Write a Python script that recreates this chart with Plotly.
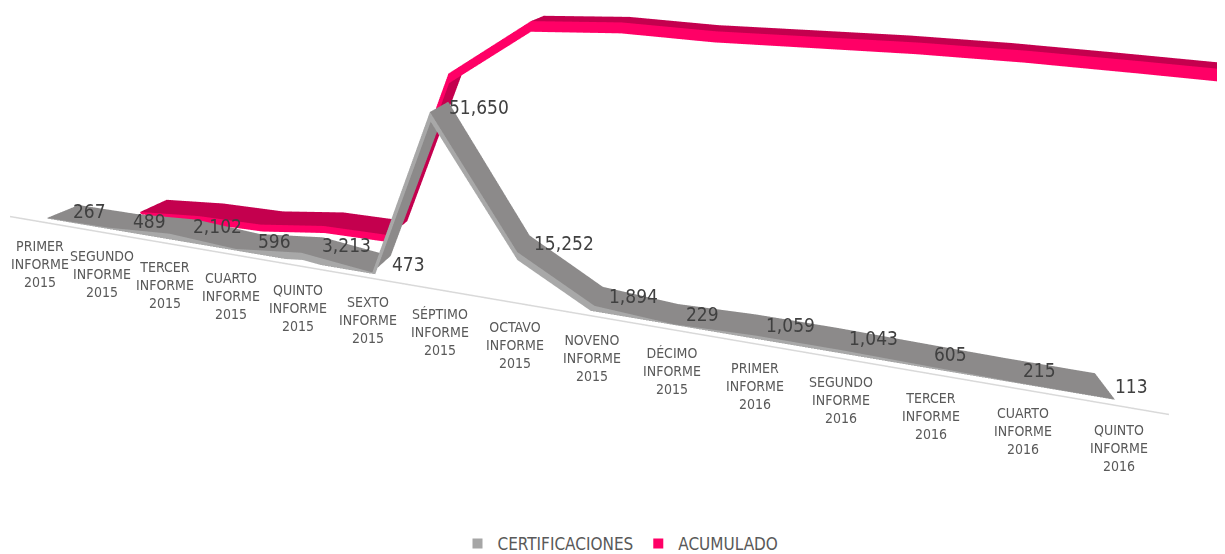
import plotly.graph_objects as go

categories = [
    "PRIMER<br>INFORME<br>2015", "SEGUNDO<br>INFORME<br>2015", "TERCER<br>INFORME<br>2015",
    "CUARTO<br>INFORME<br>2015", "QUINTO<br>INFORME<br>2015", "SEXTO<br>INFORME<br>2015",
    "SÉPTIMO<br>INFORME<br>2015", "OCTAVO<br>INFORME<br>2015", "NOVENO<br>INFORME<br>2015",
    "DÉCIMO<br>INFORME<br>2015", "PRIMER<br>INFORME<br>2016", "SEGUNDO<br>INFORME<br>2016",
    "TERCER<br>INFORME<br>2016", "CUARTO<br>INFORME<br>2016", "QUINTO<br>INFORME<br>2016",
]
certificaciones = [267, 489, 2102, 596, 3213, 473, 51650, 15252, 1894, 229, 1059, 1043, 605, 215, 113]
acumulado = [None, 756, 2858, 3454, 6667, 7140, 58790, 74042, 75936, 76165, 77224, 78267, 78872, 79087, 79200]

FONT = "DejaVu Sans Condensed, Roboto, sans-serif"
GRAY_TOP, GRAY_FRONT = "#8c8a8a", "#a8a8a8"
RED_TOP, RED_FRONT = "#c4004e", "#ff0066"

n = len(categories)
idx = list(range(n))

AXIS_Y = -0.1     # depth position of the floor axis
ROW_W = 0.45      # ribbon width in depth units
RED_ROW = 0.5     # depth position of the back series
THICK = 2500      # ribbon thickness in value units


def flat(c):
    return [[0, c], [1, c]]


LIGHT = dict(ambient=1, diffuse=0, specular=0, roughness=1, fresnel=0)


def ribbon(xs, vals, y0, top, front):
    traces = []
    traces.append(go.Surface(
        x=[xs, xs], y=[[y0] * len(xs), [y0 + ROW_W] * len(xs)], z=[vals, vals],
        surfacecolor=[[0] * len(xs)] * 2, colorscale=flat(top), showscale=False,
        lighting=LIGHT, hoverinfo="skip"))
    traces.append(go.Surface(
        x=[xs, xs], y=[[y0] * len(xs)] * 2, z=[vals, [v - THICK for v in vals]],
        surfacecolor=[[0] * len(xs)] * 2, colorscale=flat(front), showscale=False,
        lighting=LIGHT, hoverinfo="skip"))
    return traces


fig = go.Figure()

# floor axis line with tick marks
fig.add_trace(go.Scatter3d(x=[-0.5, n - 0.5], y=[AXIS_Y, AXIS_Y], z=[0, 0], mode="lines",
                           line=dict(color="#d9d9d9", width=3), hoverinfo="skip", showlegend=False))
tx, ty, tz = [], [], []
for i in range(n + 1):
    tx += [i - 0.5, i - 0.5, None]
    ty += [AXIS_Y, AXIS_Y, None]
    tz += [0, -1500, None]
fig.add_trace(go.Scatter3d(x=tx, y=ty, z=tz, mode="lines",
                           line=dict(color="#d9d9d9", width=2), hoverinfo="skip", showlegend=False))

for t in ribbon(idx, certificaciones, 0.0, GRAY_TOP, GRAY_FRONT):
    fig.add_trace(t)
ri = [i for i in idx if acumulado[i] is not None]
rv = [acumulado[i] for i in ri]
for t in ribbon(ri, rv, RED_ROW, RED_TOP, RED_FRONT):
    fig.add_trace(t)

# legend entries
fig.add_trace(go.Scatter3d(x=[None], y=[None], z=[None], mode="markers", name="CERTIFICACIONES",
                           marker=dict(symbol="square", size=10, color="#a6a6a6")))
fig.add_trace(go.Scatter3d(x=[None], y=[None], z=[None], mode="markers", name="ACUMULADO",
                           marker=dict(symbol="square", size=10, color="#ff0066")))

annotations = []
for i, c in enumerate(categories):
    annotations.append(dict(x=i, y=AXIS_Y, z=0, text=c, showarrow=False, xanchor="center",
                            yanchor="top", yshift=-14, font=dict(family=FONT, size=14, color="#595959")))
for i, v in enumerate(certificaciones):
    annotations.append(dict(x=i, y=ROW_W / 2, z=v, text=f"{v:,}", showarrow=False, xanchor="left",
                            yanchor="middle", xshift=8, font=dict(family=FONT, size=19, color="#404040")))
annotations.append(dict(x=n - 1, y=RED_ROW + ROW_W / 2, z=acumulado[-1], text=f"{acumulado[-1]:,}",
                        showarrow=False, xanchor="left", yanchor="middle", xshift=8,
                        font=dict(family=FONT, size=19, color="#404040")))

hidden = dict(visible=False, showgrid=False, zeroline=False, showbackground=False, showspikes=False)
fig.update_layout(
    width=1225, height=554,
    paper_bgcolor="white",
    margin=dict(l=0, r=0, t=0, b=0),
    font=dict(family=FONT, color="#595959"),
    scene=dict(
        domain=dict(x=[0, 1], y=[0.08, 1]),
        xaxis=dict(range=[-0.5, n - 0.5], autorange=False, **hidden),
        yaxis=dict(range=[-0.6, 1.6], autorange=False, **hidden),
        zaxis=dict(range=[0, 80000], autorange=False, **hidden),
        aspectmode="manual",
        aspectratio=dict(x=4, y=0.616, z=0.94),
        camera=dict(eye=dict(x=0.60, y=-1.82, z=0.68), center=dict(x=0.32, y=0, z=-0.35),
                    up=dict(x=-0.129, y=0.309, z=0.943), projection=dict(type="perspective")),
        annotations=annotations,
    ),
    legend=dict(orientation="h", x=0.5, xanchor="center", y=0.0, yanchor="bottom",
                font=dict(family=FONT, size=17, color="#595959")),
    showlegend=True,
)

fig.write_html("out.html", config=dict(displayModeBar=False))
